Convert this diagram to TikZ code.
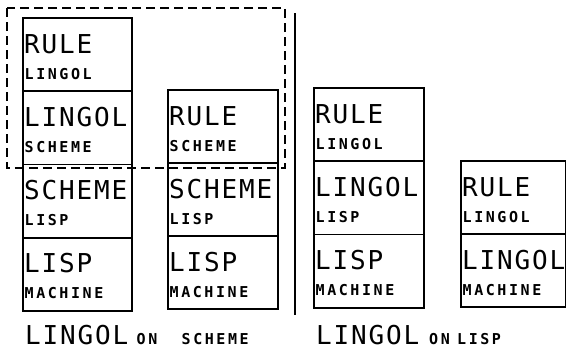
\documentclass[tikz,border=0pt]{standalone}
\usepackage{fontspec}
\newfontfamily\plotfont{DejaVu Sans Mono}
\ExplSyntaxOn
\NewDocumentCommand\pitched{mm}{\tl_map_inline:nn{#2}{\makebox[#1][l]{##1}}}
\ExplSyntaxOff
\tikzset{
  box/.style={draw, line width=1.8pt, rectangle, anchor=north west, inner sep=0pt},
  bigtxt/.style={anchor=base west, inner sep=0pt, text depth=0pt, font=\plotfont\fontsize{26}{26}\selectfont},
  smalltxt/.style={anchor=base west, inner sep=0pt, text depth=0pt, font=\plotfont\bfseries\fontsize{15}{15}\selectfont},
  frame/.style={draw, line width=1.6pt, dash pattern=on 9pt off 5pt},
  divider/.style={draw, line width=1.8pt},
}
% name, x, y(top), width, height, big text, small text
\newcommand\tbox[7]{%
  \node[box, minimum width=#4pt, minimum height=#5pt] (#1) at (#2,#3) {};
  \node[bigtxt] (#1-t) at ([shift={(2pt,-36pt)}]#1.north west) {\pitched{17.5pt}{#6}};
  \node[smalltxt] (#1-s) at ([shift={(2.5pt,-62pt)}]#1.north west) {\pitched{11.6pt}{#7}};
}
\begin{document}
\begin{tikzpicture}[x=1pt,y=-1pt]
\useasboundingbox (0,0) rectangle (566,349);
% column 1
\tbox{a1}{22}{17}{109}{73.3}{RULE}{LINGOL}
\tbox{a2}{22}{90.3}{109}{73.3}{LINGOL}{SCHEME}
\tbox{a3}{22}{163.6}{109}{73.3}{SCHEME}{LISP}
\tbox{a4}{22}{236.9}{109}{73.3}{LISP}{MACHINE}
% column 2
\tbox{b1}{167}{89}{110}{73}{RULE}{SCHEME}
\tbox{b2}{167}{162}{110}{73}{SCHEME}{LISP}
\tbox{b3}{167}{235}{110}{73}{LISP}{MACHINE}
% column 3
\tbox{c1}{313}{87}{110}{73.3}{RULE}{LINGOL}
\tbox{c2}{313}{160.3}{110}{73.3}{LINGOL}{LISP}
\tbox{c3}{313}{233.6}{110}{73.3}{LISP}{MACHINE}
% column 4
\tbox{d1}{460}{160}{105}{73}{RULE}{LINGOL}
\tbox{d2}{460}{233}{105}{73}{LINGOL}{MACHINE}
% dashed frame
\coordinate (f1) at (7,8);
\coordinate (f2) at (285,168);
\draw[frame] (f1) rectangle (f2);
% divider
\coordinate (v1) at (295,13);
\coordinate (v2) at (295,315);
\draw[divider] (v1) -- (v2);
% captions
\node[bigtxt] (l1) at (25,344) {\pitched{17.5pt}{LINGOL}};
\node[smalltxt] (l2) at (136.5,344) {\pitched{11.6pt}{ON}};
\node[smalltxt] (l3) at (181.5,344) {\pitched{11.6pt}{SCHEME}};
\node[bigtxt] (r1) at (316,344) {\pitched{17.5pt}{LINGOL}};
\node[smalltxt] (r2) at (429,344) {\pitched{11.6pt}{ON}};
\node[smalltxt] (r3) at (457,344) {\pitched{11.6pt}{LISP}};
\end{tikzpicture}
\end{document}
